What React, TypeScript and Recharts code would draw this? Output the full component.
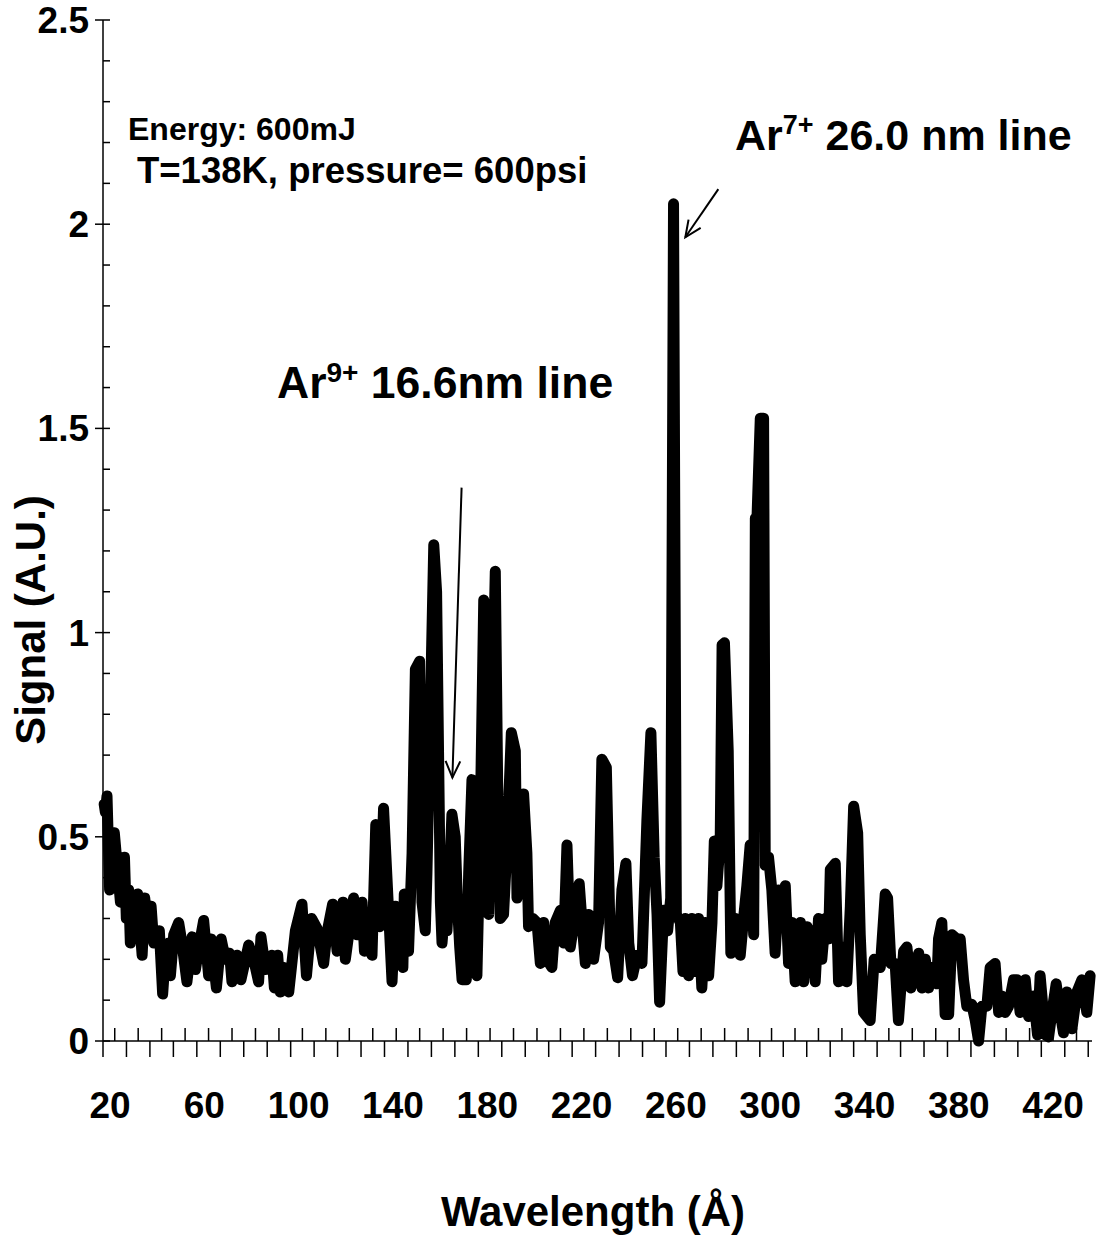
import React from "react";
import { LineChart, Line, XAxis, YAxis, ReferenceLine } from "recharts";

// wavelength (Å) and signal (A.U.)
const wavelength = [
  17.5, 18.0, 18.7, 19.8, 21.8, 24.4, 26.1, 26.9, 27.9, 28.6,
  29.7, 31.7, 33.6, 34.7, 36.4, 37.4, 38.5, 40.9, 42.3, 43.5,
  44.9, 45.6, 47.0, 49.1, 50.5, 52.6, 54.8, 56.2, 58.3, 59.7,
  61.8, 62.8, 65.1, 67.1, 68.9, 70.7, 71.7, 73.8, 75.5, 78.8,
  80.9, 83.0, 84.0, 85.9, 88.7, 89.7, 91.1, 92.2, 93.6, 95.8,
  98.6, 101.4, 103.3, 105.5, 107.8, 110.6, 112.0, 114.4, 116.3, 118.8,
  119.8, 123.3, 124.7, 126.9, 127.9, 129.3, 131.1, 132.7, 134.4, 136.0,
  139.6, 141.0, 142.4, 144.2, 144.8, 146.6, 148.1, 149.5, 151.3, 152.3,
  153.7, 154.4, 157.3, 158.5, 160.1, 160.8, 162.2, 162.9, 163.6, 165.0,
  166.4, 167.4, 168.3, 169.3, 171.1, 172.1, 173.5, 174.2, 175.6, 176.8,
  178.5, 179.6, 180.6, 182.0, 183.4, 184.4, 185.5, 186.9, 188.3, 190.2,
  191.9, 192.6, 193.7, 195.4, 196.8, 197.5, 199.4, 201.1, 202.5, 203.9,
  205.3, 207.4, 208.8, 211.0, 212.4, 213.8, 215.2, 217.3, 219.0, 220.2,
  221.6, 223.0, 225.1, 227.2, 228.6, 230.5, 232.2, 233.6, 235.3, 237.1,
  238.8, 240.0, 241.6, 243.5, 245.6, 247.7, 249.4, 250.8, 252.0, 253.1,
  254.8, 256.5, 257.8, 259.0, 260.2, 261.9, 263.0, 264.0, 265.4, 266.8,
  268.2, 269.6, 271.0, 272.5, 273.9, 275.3, 276.3, 277.4, 278.8, 279.6,
  280.6, 282.2, 283.3, 285.2, 287.3, 288.7, 290.1, 291.5, 293.0, 293.7,
  294.4, 295.8, 297.2, 297.9, 299.3, 300.7, 302.1, 303.6, 305.0, 306.4,
  307.8, 309.2, 310.6, 312.8, 314.2, 315.6, 316.3, 317.7, 319.1, 320.5,
  321.9, 323.4, 324.8, 325.5, 327.6, 329.0, 330.4, 332.5, 334.0, 335.4,
  337.1, 338.2, 339.6, 342.4, 344.1, 346.7, 348.8, 349.8, 351.2, 353.0,
  354.4, 356.6, 358.0, 359.7, 361.5, 363.0, 364.4, 365.8, 367.2, 368.6,
  370.7, 371.4, 372.8, 374.2, 375.7, 377.1, 379.2, 380.6, 382.0, 383.4,
  385.5, 387.0, 388.4, 389.8, 391.9, 393.3, 395.4, 396.9, 398.3, 399.7,
  401.1, 403.2, 404.6, 406.0, 408.2, 409.6, 411.7, 413.4, 414.5, 416.7,
  418.1, 419.5, 421.3, 423.0, 424.4, 425.8, 428.0, 430.1, 432.2, 434.3,
  435.7,
];

const signal = [
  0.58, 0.56, 0.6, 0.37, 0.51, 0.34, 0.45, 0.3, 0.37, 0.24,
  0.31, 0.36, 0.21, 0.35, 0.26, 0.33, 0.24, 0.27, 0.115, 0.215,
  0.24, 0.16, 0.26, 0.29, 0.24, 0.145, 0.255, 0.175, 0.25, 0.295,
  0.16, 0.25, 0.13, 0.25, 0.2, 0.215, 0.145, 0.21, 0.15, 0.235,
  0.2, 0.145, 0.255, 0.175, 0.21, 0.13, 0.21, 0.12, 0.18, 0.12,
  0.27, 0.335, 0.16, 0.3, 0.275, 0.19, 0.265, 0.335, 0.22, 0.34,
  0.2, 0.35, 0.26, 0.34, 0.22, 0.29, 0.21, 0.53, 0.28, 0.57,
  0.145, 0.33, 0.28, 0.18, 0.36, 0.22, 0.46, 0.91, 0.93, 0.34,
  0.27, 0.41, 1.215, 1.1, 0.34, 0.24, 0.34, 0.27, 0.35, 0.555,
  0.5, 0.33, 0.23, 0.15, 0.15, 0.41, 0.64, 0.47, 0.16, 0.46,
  1.08, 0.97, 0.31, 0.77, 1.15, 0.63, 0.3, 0.31, 0.47, 0.755,
  0.71, 0.35, 0.39, 0.605, 0.46, 0.28, 0.3, 0.29, 0.19, 0.29,
  0.2, 0.18, 0.29, 0.32, 0.24, 0.48, 0.23, 0.31, 0.385, 0.29,
  0.19, 0.31, 0.2, 0.29, 0.69, 0.67, 0.23, 0.22, 0.155, 0.37,
  0.435, 0.24, 0.16, 0.21, 0.19, 0.54, 0.755, 0.45, 0.31, 0.095,
  0.32, 0.27, 0.35, 2.05, 0.31, 0.29, 0.17, 0.3, 0.16, 0.3,
  0.17, 0.3, 0.13, 0.29, 0.16, 0.29, 0.49, 0.38, 0.49, 0.97,
  0.975, 0.71, 0.215, 0.3, 0.21, 0.3, 0.38, 0.48, 0.26, 1.28,
  1.28, 1.525, 1.525, 0.43, 0.45, 0.37, 0.215, 0.37, 0.29, 0.38,
  0.19, 0.29, 0.145, 0.29, 0.145, 0.28, 0.18, 0.27, 0.145, 0.3,
  0.2, 0.3, 0.25, 0.42, 0.435, 0.145, 0.23, 0.145, 0.33, 0.575,
  0.51, 0.26, 0.07, 0.05, 0.2, 0.18, 0.36, 0.35, 0.19, 0.19,
  0.05, 0.22, 0.23, 0.13, 0.19, 0.215, 0.13, 0.2, 0.13, 0.18,
  0.14, 0.25, 0.29, 0.065, 0.065, 0.26, 0.25, 0.25, 0.15, 0.085,
  0.09, 0.05, 0, 0.085, 0.085, 0.18, 0.19, 0.07, 0.11, 0.07,
  0.085, 0.15, 0.15, 0.07, 0.15, 0.06, 0.11, 0.015, 0.16, 0.015,
  0.01, 0.07, 0.14, 0.07, 0.02, 0.12, 0.03, 0.12, 0.15, 0.07,
  0.16,
];

const xLabels = [20, 60, 100, 140, 180, 220, 260, 300, 340, 380, 420];
const yTicks = [0, 0.1, 0.2, 0.3, 0.4, 0.5, 0.6, 0.7, 0.8, 0.9, 1, 1.1, 1.2, 1.3, 1.4, 1.5, 1.6, 1.7, 1.8, 1.9, 2, 2.1, 2.2, 2.3, 2.4, 2.5];

// category tick marks of the original axis: long ones below, short ones above
const markStart = 17;
const markStep = 9.95;
const xMax = 436.5;
const belowMarks: number[] = [];
const aboveMarks: number[] = [];
for (let v = markStart; v <= xMax; v += markStep) {
  belowMarks.push(+v.toFixed(3));
  if (v + markStep / 2 <= xMax) aboveMarks.push(+(v + markStep / 2).toFixed(3));
}

const data = wavelength.map((w, i) => ({ w, s: signal[i] }));

const FONT = "'Liberation Sans', Arial, Helvetica, sans-serif";

const labelSet = new Set(xLabels);
const belowSet = new Set(belowMarks);

function XTick(props: any) {
  const { x, y, payload } = props;
  const v = payload.value;
  if (labelSet.has(v)) {
    return (
      <text x={x} y={y + 77} textAnchor="middle" fontSize={37} fontWeight="bold" fontFamily={FONT} fill="#000">
        {v}
      </text>
    );
  }
  if (belowSet.has(v)) {
    return <line x1={x} x2={x} y1={y} y2={y + 16} stroke="#000" strokeWidth={1.5} />;
  }
  return <line x1={x} x2={x} y1={y} y2={y - 13} stroke="#000" strokeWidth={1.5} />;
}

function YTick(props: any) {
  const { x, y, payload } = props;
  const v = payload.value;
  const major = Math.abs(v * 2 - Math.round(v * 2)) < 1e-6;
  return (
    <g>
      <line x1={major ? x - 8 : x} x2={x + 7} y1={y} y2={y} stroke="#000" strokeWidth={1.5} />
      {major && (
        <text x={x - 14} y={y} dy={13} textAnchor="end" fontSize={37} fontWeight="bold" fontFamily={FONT} fill="#000">
          {String(Number(v.toFixed(1)))}
        </text>
      )}
    </g>
  );
}

function Arrow(props: any) {
  const { x1, y1, x2, y2 } = props;
  const ang = Math.atan2(y2 - y1, x2 - x1);
  const len = 18;
  const spread = 0.42;
  const ax = x2 - len * Math.cos(ang - spread);
  const ay = y2 - len * Math.sin(ang - spread);
  const bx = x2 - len * Math.cos(ang + spread);
  const by = y2 - len * Math.sin(ang + spread);
  return (
    <g>
      <line x1={x1} y1={y1} x2={x2} y2={y2} stroke="#000" strokeWidth={2} />
      <polyline points={`${ax},${ay} ${x2},${y2} ${bx},${by}`} fill="none" stroke="#000" strokeWidth={2} />
    </g>
  );
}

export default function App() {
  return (
    <div style={{ position: "absolute", left: 0, top: 0, width: 1097, height: 1240, background: "#fff" }}>
      <LineChart width={1097} height={1240} data={data} margin={{ top: 20, right: 5, left: 0, bottom: 0 }}>
        <XAxis
          dataKey="w"
          type="number"
          domain={[markStart, xMax]}
          ticks={[...xLabels, ...belowMarks, ...aboveMarks]}
          interval={0}
          tick={<XTick />}
          tickLine={false}
          tickSize={0}
          tickMargin={0}
          height={199}
          axisLine={{ stroke: "#000", strokeWidth: 1.5 }}
        />
        <YAxis
          type="number"
          domain={[0, 2.5]}
          ticks={yTicks}
          interval={0}
          tick={<YTick />}
          tickLine={false}
          tickSize={0}
          tickMargin={0}
          width={103}
          axisLine={{ stroke: "#000", strokeWidth: 1.5 }}
        />
        <ReferenceLine segment={[{ x: 169.1, y: 1.355 }, { x: 165.2, y: 0.645 }]} shape={Arrow} />
        <ReferenceLine segment={[{ x: 278, y: 2.086 }, { x: 264, y: 1.968 }]} shape={Arrow} />
        <Line
          dataKey="s"
          type="linear"
          stroke="#000"
          strokeWidth={11}
          strokeLinejoin="round"
          strokeLinecap="round"
          dot={false}
          isAnimationActive={false}
        />
      </LineChart>
      <svg
        width={1097}
        height={1240}
        style={{ position: "absolute", left: 0, top: 0, pointerEvents: "none" }}
        fontFamily={FONT}
        fontWeight="bold"
        fill="#000"
      >
        <text x={128} y={140} fontSize={32}>Energy: 600mJ</text>
        <text x={137} y={183} fontSize={36.5}>T=138K, pressure= 600psi</text>
        <text x={735} y={150} fontSize={43}>
          Ar<tspan fontSize={27} dy={-16}>7+</tspan>
          <tspan dy={16}> 26.0 nm line</tspan>
        </text>
        <text x={277} y={398} fontSize={44.5}>
          Ar<tspan fontSize={28} dy={-16}>9+</tspan>
          <tspan dy={16}> 16.6nm line</tspan>
        </text>
        <text x={593} y={1226} fontSize={42} textAnchor="middle">Wavelength (Å)</text>
        <text transform="translate(45,620) rotate(-90)" fontSize={42} textAnchor="middle">Signal (A.U.)</text>
      </svg>
    </div>
  );
}
